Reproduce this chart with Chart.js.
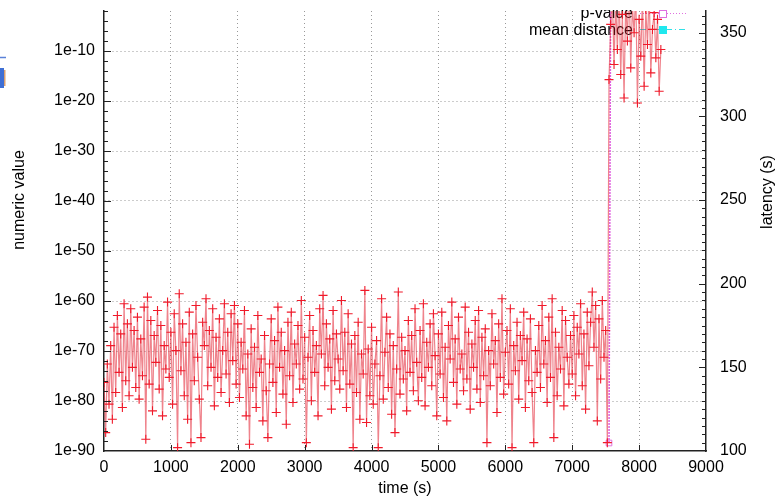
<!DOCTYPE html>
<html>
<head>
<meta charset="utf-8">
<script src="https://cdn.jsdelivr.net/npm/chart.js@4.4.1/dist/chart.umd.min.js"></script>
<style>
  html, body { margin: 0; padding: 0; background: #fff; }
  #wrap { width: 775px; height: 499px; position: relative; }
</style>
</head>
<body>
<div id="wrap"><canvas id="chart"></canvas></div>
<script>
// ---------- data ----------
// latency (s), sampled every 25 s from t = 0
const latencyStart = 0;
const latencyStep = 25;
const latency = [
  141,111,152,128,163,119,174,135,181,147,170,126,188,142,176,133,185,150,172,138,
  180,131,167,145,186,107,192,140,178,124,169,153,184,137,175,121,163,149,189,144,
  171,128,182,160,102,194,148,176,133,165,119,183,105,170,142,187,156,131,108,177,
  163,191,139,172,150,185,127,168,144,179,135,160,188,146,171,129,182,154,187,140,
  176,132,165,149,184,121,158,104,173,138,162,126,181,147,155,118,169,136,108,152,
  179,141,166,123,186,150,171,134,160,116,177,145,183,129,164,152,175,137,190,143,
  168,105,156,181,130,172,147,163,121,185,158,193,139,176,150,167,125,184,142,170,
  155,137,190,148,171,126,182,140,164,102,169,135,177,119,158,146,196,117,161,133,
  174,128,152,166,102,145,191,131,159,180,138,170,122,163,111,149,195,134,168,143,
  160,124,178,147,169,136,185,153,130,172,144,188,127,165,150,176,139,182,157,121,
  170,146,183,132,162,118,175,155,189,141,167,128,180,149,158,136,186,143,171,125,
  164,150,178,137,184,129,168,145,173,105,160,139,182,152,166,123,176,144,191,134,
  159,172,140,185,102,163,148,177,131,169,154,183,126,167,142,179,135,105,160,147,
  175,138,187,152,166,129,180,144,191,108,171,133,162,149,184,127,178,156,140,169,
  146,181,133,174,158,188,139,170,125,183,151,177,195,162,187,118,179,143,190,156,
  172,105,
  322,355,372,331,368,340,378,325,361,311,370,345,382,329,366,350,
  375,308,358,336,372,318,364,343,376,326,352,362,335,358,315,340
];

const pValueTimes = [7550, 7575, 8325];
const pValues = [4e-89, 1e2, 1e2];

const meanDistTimes = [7550, 7800, 8050, 8300];
const meanDist = [850, 1200, 980, 1100];

// axis ticks
const xTicks = [0, 1000, 2000, 3000, 4000, 5000, 6000, 7000, 8000, 9000];
const leftTickExps = [-90, -80, -70, -60, -50, -40, -30, -20, -10];
const rightTicks = [100, 150, 200, 250, 300, 350];

const FONT = '"Liberation Sans", Arial, Helvetica, sans-serif';
const GRID = '#999';
const AXIS = '#222';

const line = (ctx, x1, y1, x2, y2) => {
  ctx.beginPath(); ctx.moveTo(x1, y1); ctx.lineTo(x2, y2); ctx.stroke();
};

// ---------- legend (under the data, top cut off like the source) ----------
const keyBox = {
  id: 'keyBox',
  beforeDatasetsDraw(chart) {
    const ctx = chart.ctx;
    ctx.save();
    ctx.beginPath(); ctx.rect(0, 10, chart.width, chart.height - 10); ctx.clip();
    ctx.fillStyle = '#000';
    ctx.font = '16px ' + FONT;
    ctx.textAlign = 'right';
    ctx.textBaseline = 'alphabetic';
    ctx.fillText('p-value', 633, 17.5);
    ctx.fillText('mean distance', 633, 34.5);

    ctx.strokeStyle = '#e070e0';
    ctx.lineWidth = 1;
    ctx.setLineDash([1, 2]);
    line(ctx, 640, 13.5, 686, 13.5);
    ctx.setLineDash([]);
    ctx.fillStyle = '#fff';
    ctx.fillRect(659.5, 10.5, 7, 7);
    ctx.strokeRect(659.5, 10.5, 7, 7);

    ctx.strokeStyle = '#30e0e8';
    ctx.setLineDash([6, 3, 1, 3]);
    line(ctx, 640, 29.5, 686, 29.5);
    ctx.setLineDash([]);
    ctx.fillStyle = '#20e8ee';
    ctx.fillRect(659, 26, 8, 8);
    ctx.restore();
  }
};

// ---------- inward ticks, axis titles ----------
const decorations = {
  id: 'decorations',
  afterDraw(chart) {
    const { ctx, chartArea: a, scales } = chart;
    ctx.save();
    ctx.strokeStyle = AXIS;
    ctx.lineWidth = 1;

    // left axis: majors every 10 decades, minors every 2
    for (let e = -88; e <= -2; e += 2) {
      const y = Math.round(scales.y.getPixelForValue(Math.pow(10, e))) + 0.5;
      line(ctx, a.left, y, a.left + (e % 10 === 0 ? 7 : 4), y);
    }
    // right axis: majors every 50, minors every 5
    for (let v = 105; v <= 360; v += 5) {
      const y = Math.round(scales.y2.getPixelForValue(v)) + 0.5;
      line(ctx, a.right, y, a.right - (v % 50 === 0 ? 7 : 4), y);
    }
    // bottom axis
    xTicks.slice(1, -1).forEach(v => {
      const x = Math.round(scales.x.getPixelForValue(v)) + 0.5;
      line(ctx, x, a.bottom, x, a.bottom - 6);
    });

    // axis titles
    ctx.fillStyle = '#000';
    ctx.font = '16px ' + FONT;
    ctx.textAlign = 'center';
    ctx.textBaseline = 'middle';
    ctx.fillText('time (s)', (a.left + a.right) / 2, 489);
    ctx.save();
    ctx.translate(20, 200); ctx.rotate(-Math.PI / 2);
    ctx.fillText('numeric value', 0, 0);
    ctx.restore();
    ctx.save();
    ctx.translate(768, 192); ctx.rotate(-Math.PI / 2);
    ctx.fillText('latency (s)', 0, 0);
    ctx.restore();

    // scrap of another figure on the left edge
    ctx.strokeStyle = '#5b82d8';
    ctx.lineWidth = 1.5;
    line(ctx, 0, 57.5, 6, 57.5);
    ctx.fillStyle = '#3f6fd4';
    ctx.fillRect(0, 68, 4, 20);
    ctx.fillStyle = '#d9a070';
    ctx.fillRect(4, 70, 1.5, 16);

    ctx.restore();
  }
};

// fixed plot box: no automatic label overhang padding
const noPad = s => { s.paddingTop = 0; s.paddingBottom = 0; s.paddingLeft = 0; s.paddingRight = 0; };

// ---------- chart ----------
const tickFont = { family: FONT, size: 16 };

new Chart(document.getElementById('chart'), {
  type: 'line',
  data: {
    datasets: [
      {
        label: 'latency',
        data: latency.map((v, i) => ({ x: latencyStart + i * latencyStep, y: v })),
        yAxisID: 'y2',
        borderColor: 'rgba(226, 30, 45, 0.55)',
        borderWidth: 1.2,
        pointStyle: 'cross',
        pointRadius: 4.5,
        pointBorderColor: '#f01a2a',
        pointBackgroundColor: '#f01a2a',
        pointBorderWidth: 1.1,
        tension: 0
      },
      {
        label: 'p-value',
        data: pValueTimes.map((t, i) => ({ x: t, y: pValues[i] })),
        yAxisID: 'y',
        borderColor: '#e060e0',
        borderWidth: 1.5,
        borderDash: [2, 1],
        pointStyle: 'rect',
        pointRadius: 4,
        pointBackgroundColor: 'rgba(255,255,255,0)',
        pointBorderColor: '#e070e0',
        pointBorderWidth: 1,
        tension: 0
      },
      {
        label: 'mean distance',
        data: meanDistTimes.map((t, i) => ({ x: t, y: meanDist[i] })),
        yAxisID: 'y',
        borderColor: '#30e0e8',
        borderWidth: 1,
        borderDash: [6, 3, 1, 3],
        pointStyle: 'rect',
        pointRadius: 4,
        pointBackgroundColor: '#20e8ee',
        pointBorderColor: '#20e8ee',
        tension: 0
      }
    ]
  },
  options: {
    responsive: true,
    maintainAspectRatio: false,
    animation: false,
    devicePixelRatio: 1,
    layout: { padding: { top: 11, left: 0, right: 0, bottom: 0 } },
    plugins: { legend: { display: false }, tooltip: { enabled: false } },
    scales: {
      x: {
        type: 'linear',
        min: 0, max: 9000,
        afterFit: s => { noPad(s); s.height = 48; },
        afterBuildTicks: s => { s.ticks = xTicks.map(v => ({ value: v })); },
        ticks: {
          font: tickFont, color: '#000', padding: 7, maxRotation: 0, autoSkip: false,
          callback: v => String(v)
        },
        grid: {
          drawTicks: false,
          color: c => (c.tick && (c.tick.value === 0 || c.tick.value === 9000)) ? 'rgba(0,0,0,0)' : GRID,
          lineWidth: 1
        },
        border: { color: AXIS, width: 1.5, dash: [1, 3] }
      },
      y: {
        type: 'logarithmic',
        position: 'left',
        min: 1e-90, max: 1e-2,
        afterFit: s => { noPad(s); s.width = 104; },
        afterBuildTicks: s => { s.ticks = leftTickExps.map(e => ({ value: Math.pow(10, e) })); },
        ticks: {
          font: tickFont, color: '#000', padding: 9, autoSkip: false,
          callback: v => '1e' + Math.round(Math.log10(v))
        },
        grid: {
          drawTicks: false,
          color: c => (c.tick && Math.round(Math.log10(c.tick.value)) === -90) ? 'rgba(0,0,0,0)' : GRID,
          lineWidth: 1
        },
        border: { color: AXIS, width: 1.5, dash: [1, 3] }
      },
      y2: {
        type: 'linear',
        position: 'right',
        min: 100, max: 363,
        afterFit: s => { noPad(s); s.width = 69; },
        afterBuildTicks: s => { s.ticks = rightTicks.map(v => ({ value: v })); },
        ticks: { font: tickFont, color: '#000', padding: 14, autoSkip: false },
        grid: { drawOnChartArea: false, drawTicks: false },
        border: { color: AXIS, width: 1.5 }
      }
    }
  },
  plugins: [keyBox, decorations]
});
</script>
</body>
</html>
